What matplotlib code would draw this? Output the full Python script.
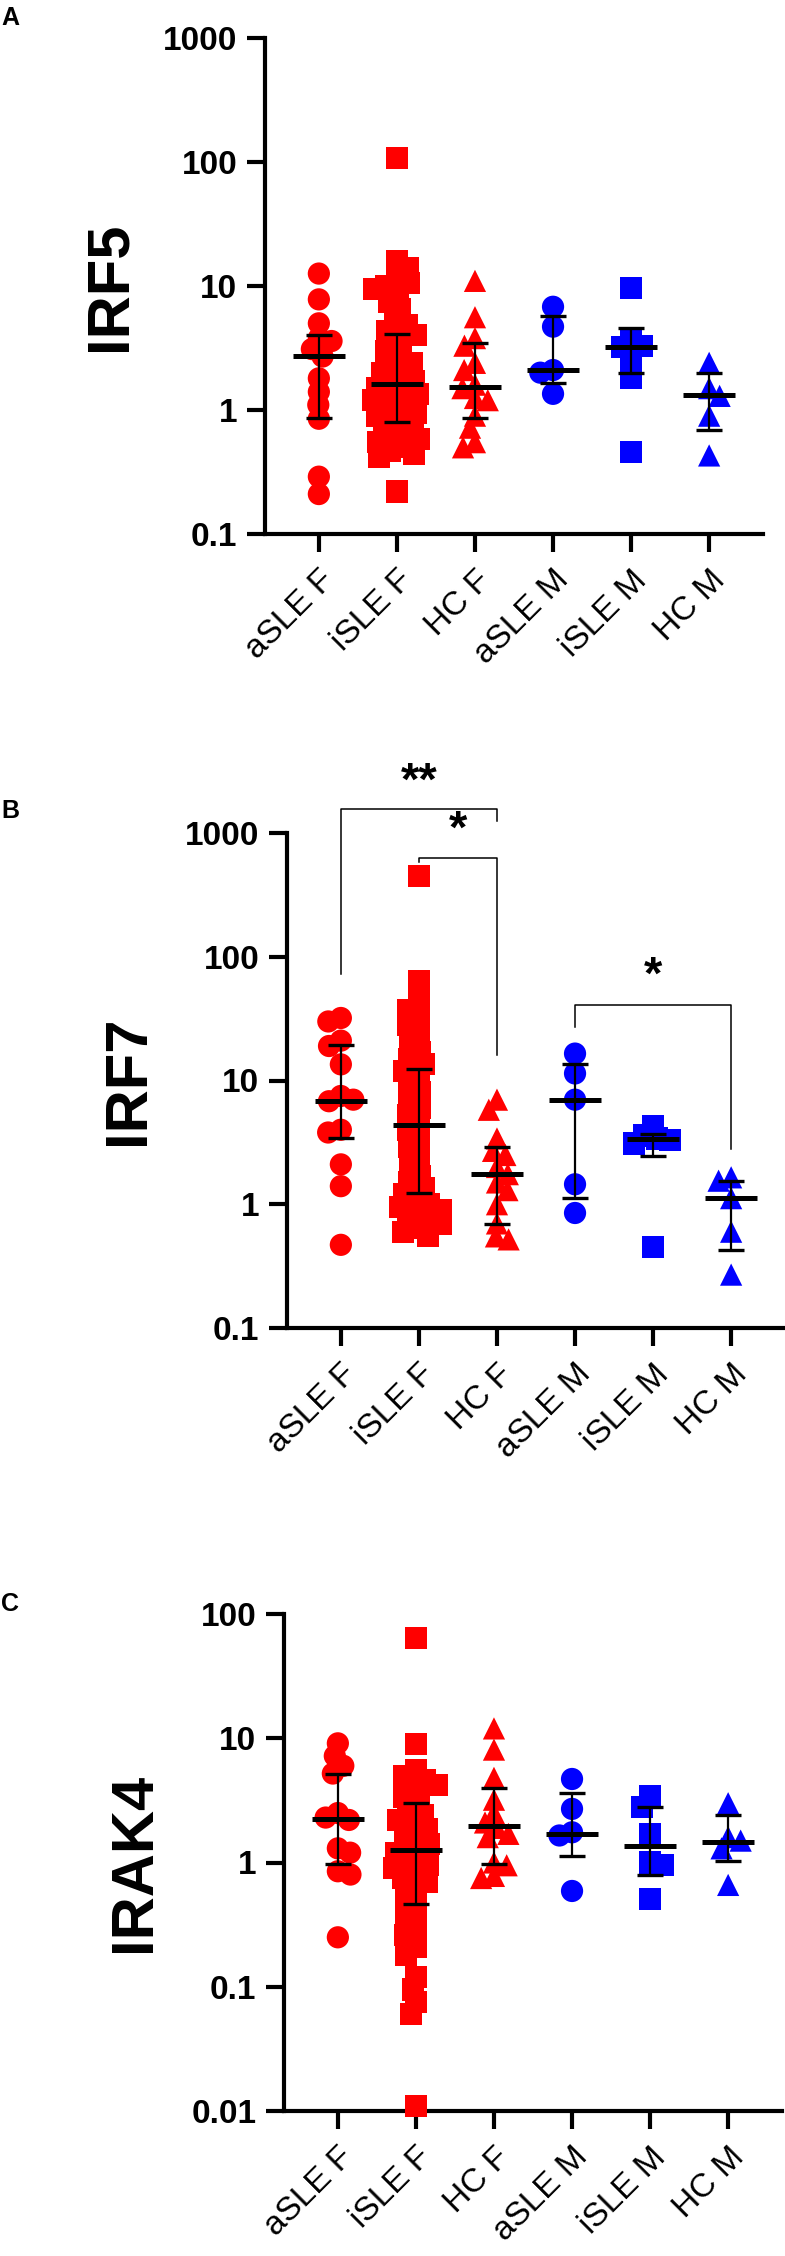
import numpy as np
import matplotlib
matplotlib.use("Agg")
import matplotlib.pyplot as plt
from matplotlib.ticker import FixedLocator, FixedFormatter, NullLocator

plt.rcParams['font.family'] = ['Liberation Sans', 'DejaVu Sans']

# ---------------- data ----------------
categories = ['aSLE F', 'iSLE F', 'HC F', 'aSLE M', 'iSLE M', 'HC M']
colors = ['#FF0000', '#FF0000', '#FF0000', '#0000FF', '#0000FF', '#0000FF']
markers = ['o', 's', '^', 'o', 's', '^']

# Panel A: IRF5
irf5_aSLE_F = [12.6, 7.8, 5.0, 3.8, 3.6, 3.1, 2.7, 1.8, 1.4, 1.1, 0.85, 0.29, 0.21]
irf5_iSLE_F = [108, 16, 14, 11.5, 10.5, 10, 9.5, 9, 7.5, 6.5, 5.2, 4.8, 4.3, 4.0,
               3.4, 3.0, 2.7, 2.4, 2.2, 2.0, 1.8, 1.7, 1.6, 1.5, 1.45, 1.35, 1.3,
               1.2, 1.15, 1.1, 1.0, 0.95, 0.9, 0.85, 0.78, 0.72, 0.68, 0.62, 0.58,
               0.55, 0.5, 0.47, 0.44, 0.42, 0.22]
irf5_HC_F = [11, 5.6, 3.8, 3.3, 2.4, 2.1, 1.6, 1.5, 1.25, 1.2, 0.9, 0.72, 0.55, 0.5]
irf5_aSLE_M = [6.8, 4.7, 2.1, 2.0, 1.35]
irf5_iSLE_M = [9.6, 3.8, 3.3, 3.2, 2.5, 1.8, 0.46]
irf5_HC_M = [2.4, 1.5, 1.3, 0.9, 0.43]
irf5_median = [2.72, 1.62, 1.53, 2.1, 3.2, 1.32]
irf5_q1 = [0.86, 0.80, 0.86, 1.65, 2.0, 0.69]
irf5_q3 = [4.0, 4.1, 3.47, 5.7, 4.6, 2.0]

# Panel B: IRF7
irf7_aSLE_F = [32, 30, 21, 19, 13.5, 7.5, 7.0, 6.8, 4.0, 3.8, 2.1, 1.4, 0.47]
irf7_iSLE_F = [450, 63, 42, 37, 32, 28, 24, 20, 17, 15, 13.5, 12, 10.5, 9, 8, 7, 6,
               5.3, 4.6, 4.0, 3.4, 2.9, 2.4, 2.0, 1.7, 1.5, 1.35, 1.2, 1.1, 1.0,
               0.95, 0.9, 0.85, 0.8, 0.75, 0.7, 0.65, 0.6, 0.55]
irf7_HC_F = [7.0, 5.8, 3.4, 2.7, 2.5, 2.0, 1.75, 1.5, 1.3, 1.0, 0.7, 0.55, 0.52]
irf7_aSLE_M = [16.5, 11.4, 7.0, 1.45, 0.85]
irf7_iSLE_M = [4.3, 3.6, 3.4, 3.3, 3.1, 0.45]
irf7_HC_M = [1.65, 1.55, 1.12, 0.6, 0.27]
irf7_median = [6.8, 4.4, 1.75, 7.0, 3.35, 1.12]
irf7_q1 = [3.4, 1.23, 0.69, 1.12, 2.45, 0.43]
irf7_q3 = [19.5, 12.3, 2.9, 13.7, 3.7, 1.53]

# significance brackets for panel B: (left group, right group, top, left foot, right foot, text, text height)
irf7_brackets = [
    (0, 2, 1560, 72, 1260, '**', 2570),
    (1, 2, 630, 585, 16, '*', 1050),
    (3, 5, 41, 27, 2.8, '*', 69),
]

# Panel C: IRAK4
irak4_aSLE_F = [9.1, 7.2, 6.0, 5.2, 2.5, 2.3, 2.2, 1.3, 1.2, 0.85, 0.8, 0.25]
irak4_iSLE_F = [64, 9.0, 5.5, 5.0, 4.6, 4.2, 3.8, 3.4, 3.0, 2.6, 2.4, 2.2, 2.0, 1.85,
                1.7, 1.55, 1.4, 1.3, 1.2, 1.1, 1.0, 0.95, 0.9, 0.8, 0.75, 0.7, 0.58,
                0.5, 0.42, 0.36, 0.3, 0.26, 0.21, 0.18, 0.12, 0.095, 0.075, 0.06, 0.011]
irak4_HC_F = [12, 8.1, 4.8, 3.2, 2.5, 2.1, 1.9, 1.7, 1.6, 1.0, 0.95, 0.78, 0.75]
irak4_aSLE_M = [4.7, 2.7, 1.75, 1.65, 0.59]
irak4_iSLE_M = [3.4, 2.8, 1.7, 1.0, 0.95, 0.51]
irak4_HC_M = [3.0, 1.6, 1.5, 1.3, 0.66]
irak4_median = [2.26, 1.27, 1.95, 1.7, 1.35, 1.47]
irak4_q1 = [0.97, 0.46, 0.98, 1.12, 0.8, 1.02]
irak4_q3 = [5.2, 3.0, 4.0, 3.6, 2.8, 2.4]

yticks_A = [0.1, 1, 10, 100, 1000]
yticklabels_A = ['0.1', '1', '10', '100', '1000']
yticks_C = [0.01, 0.1, 1, 10, 100]
yticklabels_C = ['0.01', '0.1', '1', '10', '100']

# ---------------- figure ----------------
W, H = 785, 2256
fig = plt.figure(figsize=(W / 100, H / 100), dpi=100)

MS = 16.0  # marker size in points


def swarm_offsets(ax, xc, vals, dmin_px, max_px=30.0):
    """Beeswarm x offsets (data units), computed in display space."""
    vals = np.asarray(vals, float)
    pts = ax.transData.transform(np.column_stack([np.full(len(vals), xc), vals]))
    ys = pts[:, 1]
    ppu = ax.transData.transform([[1, 1]])[0, 0] - ax.transData.transform([[0, 1]])[0, 0]
    order = np.argsort(-ys)
    placed = []
    offs = np.zeros(len(vals))
    for k, i in enumerate(order):
        y = ys[i]
        cands = [0.0]
        for (px, py) in placed:
            dy = abs(y - py)
            if dy < dmin_px:
                h = np.sqrt(dmin_px ** 2 - dy ** 2)
                cands += [px - h, px + h]
        cands = sorted(cands, key=lambda c: (abs(c), c if k % 2 else -c))
        best = None
        for c in cands:
            ok = True
            for (px, py) in placed:
                if (c - px) ** 2 + (y - py) ** 2 < dmin_px ** 2 - 1e-6:
                    ok = False
                    break
            if ok:
                best = c
                break
        if best is None or abs(best) > max_px:
            grid = np.linspace(-max_px, max_px, 31)
            score = [min([(g - px) ** 2 + (y - py) ** 2 for (px, py) in placed] + [1e9]) for g in grid]
            best = grid[int(np.argmax(score))]
        offs[i] = best
        placed.append((best, y))
    return offs / ppu


def make_panel(rect, groups, med, q1, q3, ylim, yticks, yticklabels, ylabel, ylabel_x):
    ax = fig.add_axes(rect)
    ax.set_yscale('log')
    ax.set_ylim(ylim)
    ax.set_xlim(-0.69, 5.69)
    for sp in ['top', 'right']:
        ax.spines[sp].set_visible(False)
    for sp in ['left', 'bottom']:
        ax.spines[sp].set_linewidth(3)
    ax.yaxis.set_major_locator(FixedLocator(yticks))
    ax.yaxis.set_major_formatter(FixedFormatter(yticklabels))
    ax.yaxis.set_minor_locator(NullLocator())
    ax.set_xticks(range(len(categories)))
    ax.set_xticklabels(categories, rotation=45, ha='right', va='top',
                       rotation_mode='anchor', fontsize=24)
    ax.tick_params(axis='y', length=13, width=3, pad=7, labelsize=24)
    ax.tick_params(axis='x', length=13, width=3, pad=9)
    for t in ax.get_yticklabels():
        t.set_fontweight('bold')
    ax.set_ylabel(ylabel, fontsize=43, fontweight='bold', va='center')
    ax.yaxis.set_label_coords(ylabel_x, 0.5)

    for i, vals in enumerate(groups):
        offs = swarm_offsets(ax, i, vals, 13.0, 24.0)
        ax.scatter(i + offs, vals, s=MS ** 2, marker=markers[i], c=colors[i],
                   edgecolors='none', clip_on=False, zorder=3)
    x = np.arange(len(categories))
    ax.vlines(x, q1, q3, colors='black', lw=1.6, zorder=5)
    ax.hlines(q1, x - 0.17, x + 0.17, colors='black', lw=2.4, zorder=5)
    ax.hlines(q3, x - 0.17, x + 0.17, colors='black', lw=2.4, zorder=5)
    ax.hlines(med, x - 0.33, x + 0.33, colors='black', lw=3.6, zorder=6)
    return ax


def rect_px(left, right, top, bottom):
    return [left / W, 1 - bottom / H, (right - left) / W, (bottom - top) / H]


axA = make_panel(rect_px(265, 763, 38, 534),
                 [irf5_aSLE_F, irf5_iSLE_F, irf5_HC_F, irf5_aSLE_M, irf5_iSLE_M, irf5_HC_M],
                 irf5_median, irf5_q1, irf5_q3, (0.1, 1000), yticks_A, yticklabels_A,
                 'IRF5', (110 - 265) / 498)

axB = make_panel(rect_px(287, 785, 833, 1328),
                 [irf7_aSLE_F, irf7_iSLE_F, irf7_HC_F, irf7_aSLE_M, irf7_iSLE_M, irf7_HC_M],
                 irf7_median, irf7_q1, irf7_q3, (0.1, 1000), yticks_A, yticklabels_A,
                 'IRF7', (128 - 287) / 498)

axC = make_panel(rect_px(284, 782, 1614, 2111),
                 [irak4_aSLE_F, irak4_iSLE_F, irak4_HC_F, irak4_aSLE_M, irak4_iSLE_M, irak4_HC_M],
                 irak4_median, irak4_q1, irak4_q3, (0.01, 100), yticks_C, yticklabels_C,
                 'IRAK4', (135 - 284) / 498)

for (g0, g1, top, lf, rf, txt, ty) in irf7_brackets:
    axB.plot([g0, g0, g1, g1], [lf, top, top, rf], color='black', lw=1.1,
             clip_on=False, zorder=4)
    axB.text((g0 + g1) / 2, ty, txt, ha='center', va='center', fontsize=34,
             fontweight='bold', clip_on=False)

for letter, ypx in [('A', 6), ('B', 799), ('C', 1592)]:
    fig.text(1 / W, 1 - ypx / H, letter, fontsize=18, fontweight='bold',
             ha='left', va='top')

fig.savefig('out.png', dpi=100)
